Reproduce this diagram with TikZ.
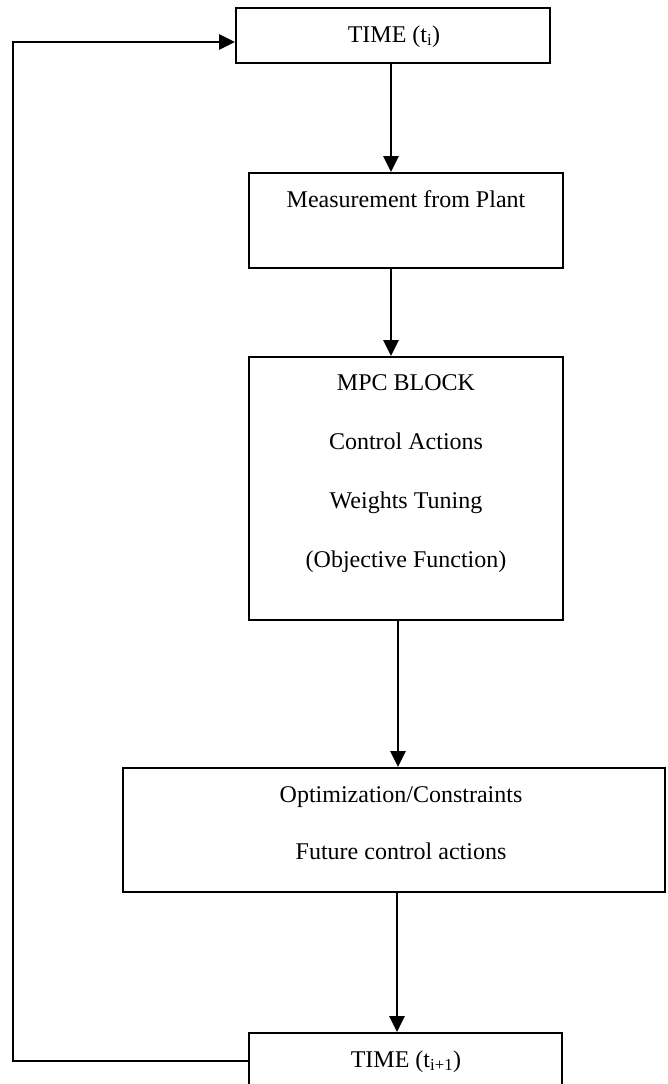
\documentclass[tikz,border=0pt]{standalone}
\usepackage{fontspec}
\setmainfont{Liberation Serif}
\usetikzlibrary{arrows.meta,calc}

\begin{document}
\begin{tikzpicture}[x=1pt,y=-1pt,
  blockbox/.style={draw=black,line width=1.8pt,fill=white,rectangle,inner sep=0pt},
  lbl/.style={anchor=base,inner sep=0pt,font=\fontsize{24}{28}\selectfont},
  conn/.style={draw=black,line width=2.6pt,-{Triangle[length=16pt,width=15pt]}},
  loopline/.style={draw=black,line width=2.1pt}]
  \clip (0,0) rectangle (667,1084);

  % blocks
  \node[blockbox,minimum width=314pt,minimum height=55pt]  (t1)   at (393,35.5)  {};
  \node[blockbox,minimum width=314pt,minimum height=95pt]  (meas) at (406,220.5) {};
  \node[blockbox,minimum width=314pt,minimum height=263pt] (mpc)  at (406,488.5) {};
  \node[blockbox,minimum width=542pt,minimum height=124pt] (opt)  at (394,830)   {};
  \node[blockbox,minimum width=313pt,minimum height=74pt]  (t2)   at (405.5,1070) {};

  % block texts
  \node[lbl] (t1txt)   at (394,42)  {TIME (t\textsubscript{i})};
  \node[lbl] (meastxt) at (406,207) {Measurement from Plant};
  \node[lbl] (mpcA)    at (406,390) {MPC BLOCK};
  \node[lbl] (mpcB)    at (406,449) {Control Actions};
  \node[lbl] (mpcC)    at (406,508) {Weights Tuning};
  \node[lbl] (mpcD)    at (406,567) {(Objective Function)};
  \node[lbl] (optA)    at (401,802) {Optimization/Constraints};
  \node[lbl] (optB)    at (401,859) {Future control actions};
  \node[lbl] (t2txt)   at (406,1067) {TIME (t\textsubscript{i+1})};

  % forward connectors
  \draw[conn] ([xshift=-2pt]t1.south)    -- ([xshift=-2pt]t1.south |- meas.north);
  \draw[conn] ([xshift=-15pt]meas.south) -- ([xshift=-15pt]meas.south |- mpc.north);
  \draw[conn] ([xshift=-8pt]mpc.south)   -- ([xshift=-8pt]mpc.south |- opt.north);
  \draw[conn] ([xshift=3pt]opt.south)    -- ([xshift=3pt]opt.south |- t2.north);

  % feedback loop back to the first time step
  \coordinate (lb) at (13,1061);
  \coordinate (lt) at (13,42);
  \draw[loopline] (t2.west |- lb) -- (lb) -- (lt) -- ++(2,0);
  \draw[conn] (lt) -- (lt -| t1.west);
\end{tikzpicture}
\end{document}
